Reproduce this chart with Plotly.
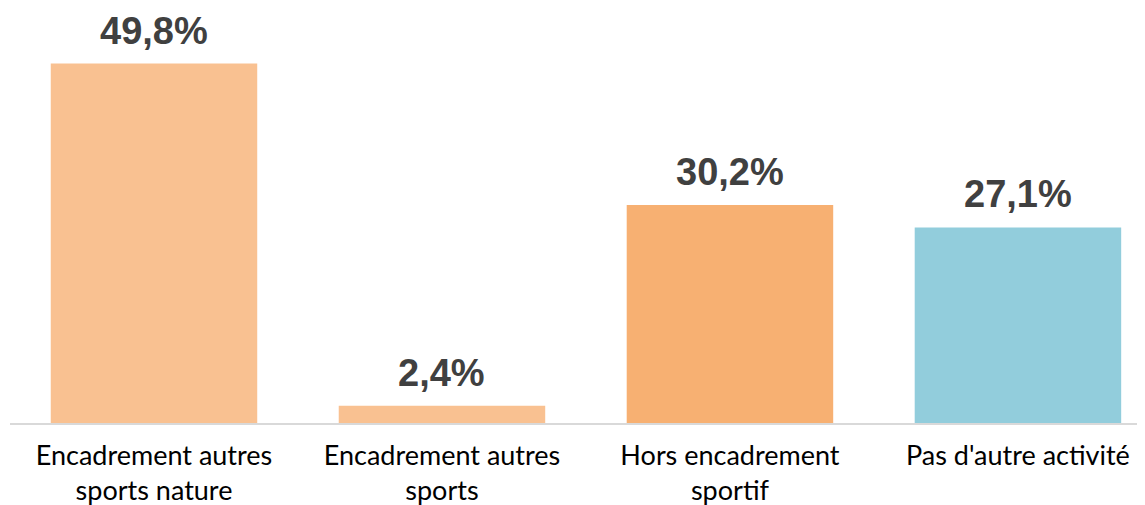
import plotly.graph_objects as go

categories = ["Encadrement autres<br>sports nature", "Encadrement autres<br>sports",
              "Hors encadrement<br>sportif", "Pas d'autre activité"]
values = [49.8, 2.4, 30.2, 27.1]
labels = ["49,8%", "2,4%", "30,2%", "27,1%"]
colors = ["#F9C191", "#F9C191", "#F7B072", "#92CDDC"]

x = list(range(len(categories)))
fig = go.Figure(go.Bar(x=x, y=values, marker_color=colors, width=0.717,
                       marker_line_width=0, hoverinfo="skip"))

for xi, v, t in zip(x, values, labels):
    fig.add_annotation(x=xi, y=v, text="<b>%s</b>" % t, showarrow=False,
                       yanchor="bottom", yshift=10,
                       font=dict(family="Liberation Sans, Arial", size=38, color="#404040"))

fig.update_layout(
    width=1145, height=505,
    margin=dict(l=2, r=0, t=17.5, b=89.5),
    paper_bgcolor="white", plot_bgcolor="white",
    showlegend=False,
    xaxis=dict(tickmode="array", tickvals=x, ticktext=categories,
               range=[-0.5, 3.469], showline=True, linecolor="#D9D9D9", linewidth=1.5,
               showgrid=False, zeroline=False, ticks="", ticklabelstandoff=8,
               tickfont=dict(family="Lato, Calibri, sans-serif", size=27, color="#000000")),
    yaxis=dict(range=[0, 55], visible=False, showgrid=False, zeroline=False),
)
fig.write_html("out.html")
